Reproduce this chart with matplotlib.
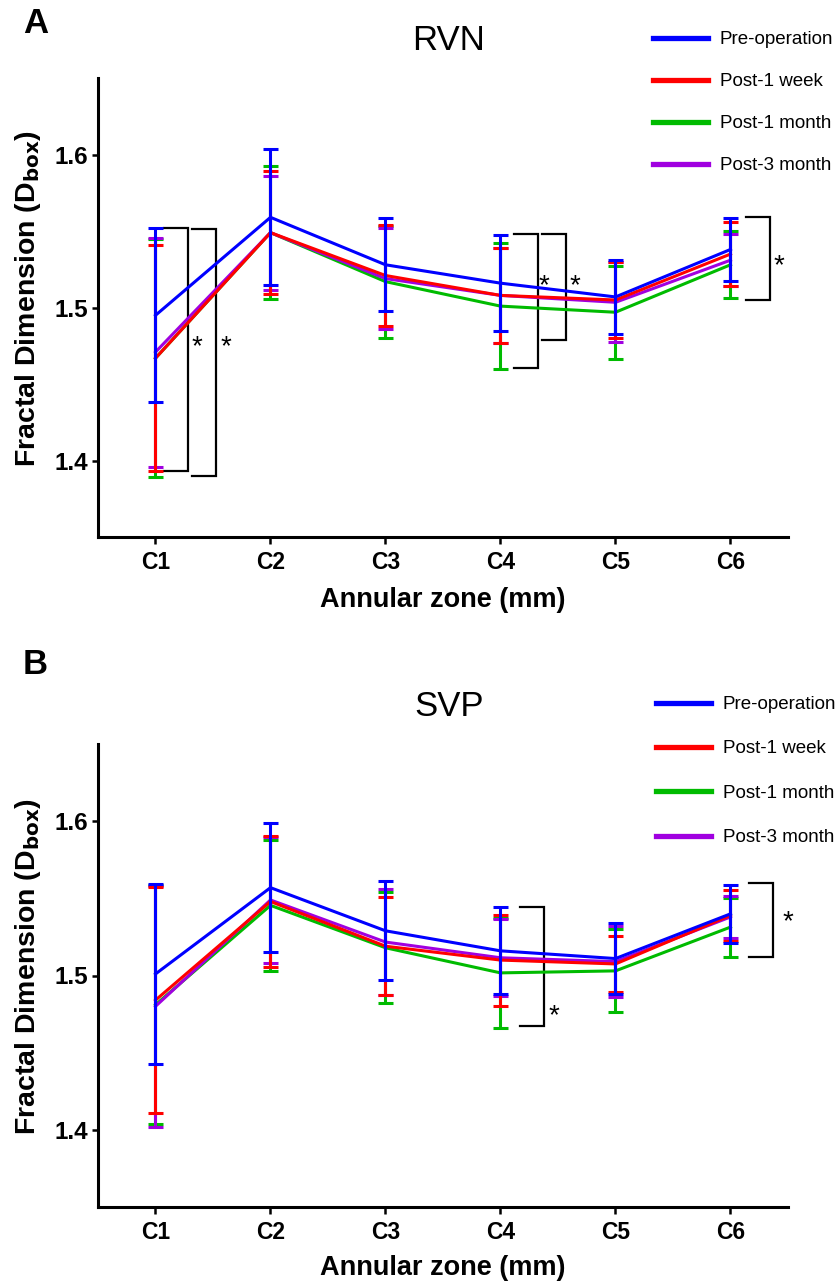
import matplotlib
matplotlib.use("Agg")
import matplotlib.pyplot as plt
import numpy as np

plt.rcParams['font.family'] = ['Liberation Sans', 'DejaVu Sans']

zones = ["C1", "C2", "C3", "C4", "C5", "C6"]
series = ["Pre-operation", "Post-1 week", "Post-1 month", "Post-3 month"]
colors = ["#0000FF", "#FF0000", "#00BB00", "#A000E0"]

# Panel A (RVN): means and SD
rvn_pre = [1.495, 1.559, 1.528, 1.516, 1.507, 1.538]
rvn_pre_sd = [0.0568, 0.0443, 0.0304, 0.0313, 0.0244, 0.0207]
rvn_w1 = [1.467, 1.549, 1.521, 1.508, 1.505, 1.535]
rvn_w1_sd = [0.0736, 0.0400, 0.0330, 0.0308, 0.0247, 0.0210]
rvn_m1 = [1.467, 1.549, 1.517, 1.501, 1.497, 1.528]
rvn_m1_sd = [0.0776, 0.0433, 0.0365, 0.0410, 0.0303, 0.0220]
rvn_m3 = [1.471, 1.549, 1.519, 1.508, 1.5035, 1.531]
rvn_m3_sd = [0.0748, 0.0373, 0.0329, 0.0310, 0.0260, 0.0169]

# Panel B (SVP): means and SD
svp_pre = [1.501, 1.557, 1.529, 1.516, 1.511, 1.540]
svp_pre_sd = [0.0585, 0.0417, 0.0320, 0.0282, 0.0230, 0.0188]
svp_w1 = [1.484, 1.548, 1.519, 1.510, 1.5075, 1.539]
svp_w1_sd = [0.0733, 0.0423, 0.0317, 0.0295, 0.0184, 0.0167]
svp_m1 = [1.481, 1.5455, 1.518, 1.5017, 1.503, 1.5314]
svp_m1_sd = [0.0775, 0.0427, 0.0359, 0.0356, 0.0270, 0.0192]
svp_m3 = [1.480, 1.549, 1.5217, 1.5115, 1.509, 1.538]
svp_m3_sd = [0.0780, 0.0410, 0.0341, 0.0250, 0.0230, 0.0137]

# significance brackets: (x_left, x_right, y_top, y_bottom, star_x, star_y)
rvn_brackets = [
    (0.072, 0.282, 1.5517, 1.3932, 0.36, 1.474),
    (0.314, 0.526, 1.5513, 1.3900, 0.613, 1.474),
    (3.115, 3.324, 1.5480, 1.4605, 3.376, 1.5137),
    (3.365, 3.568, 1.5480, 1.4790, 3.647, 1.5137),
    (5.133, 5.342, 1.5589, 1.5050, 5.42, 1.5268),
]
svp_brackets = [
    (3.167, 3.376, 1.5444, 1.4673, 3.464, 1.4734),
    (5.160, 5.370, 1.5600, 1.5123, 5.50, 1.5345),
]

W, H = 837, 1287
fig = plt.figure(figsize=(W / 100, H / 100), dpi=100)

def fx(px):
    return px / W

def fy(py):
    return 1 - py / H

panels = [
    dict(rect=[fx(98), fy(537.3), fx(788) - fx(98), fy(78) - fy(537.3)],
         means=[rvn_pre, rvn_w1, rvn_m1, rvn_m3],
         sds=[rvn_pre_sd, rvn_w1_sd, rvn_m1_sd, rvn_m3_sd],
         brackets=rvn_brackets, title="RVN", title_y=40, letter="A", letter_y=23.4,
         leg_top=31, leg_left=653, leg_sp=1.33, xlab_y=-0.1365),
    dict(rect=[fx(98), fy(1206.7), fx(788) - fx(98), fy(744.3) - fy(1206.7)],
         means=[svp_pre, svp_w1, svp_m1, svp_m3],
         sds=[svp_pre_sd, svp_w1_sd, svp_m1_sd, svp_m3_sd],
         brackets=svp_brackets, title="SVP", title_y=707, letter="B", letter_y=664,
         leg_top=696, leg_left=656, leg_sp=1.45, xlab_y=-0.133),
]

x = np.arange(len(zones))
order = [2, 3, 1, 0]  # draw green, purple, red, blue (blue on top)

for p in panels:
    ax = fig.add_axes(p["rect"])
    for i in order:
        ax.errorbar(x, p["means"][i], yerr=p["sds"][i], color=colors[i],
                    linewidth=2.2, elinewidth=2.2, capsize=5.4, capthick=2.2,
                    zorder=3 + order.index(i))
    proxies = [plt.Line2D([], [], color=colors[i], linewidth=3.8) for i in range(4)]
    ax.legend(proxies, series, loc="upper left", frameon=False,
              bbox_to_anchor=(fx(p["leg_left"]), fy(p["leg_top"])),
              bbox_transform=fig.transFigure, borderpad=0, borderaxespad=0,
              handlelength=2.95, handletextpad=0.62, labelspacing=p["leg_sp"],
              prop=dict(size=13.5))
    for (x0, x1, yt, yb, sx, sy) in p["brackets"]:
        ax.plot([x0, x1, x1, x0], [yt, yt, yb, yb], color="black", linewidth=1.6,
                solid_joinstyle="miter", zorder=2)
        ax.text(sx, sy, "*", fontsize=20, ha="center", va="center", color="black")

    ax.set_xlim(-0.5, 5.5)
    ax.set_ylim(1.35, 1.65)
    ax.set_xticks(x)
    ax.set_xticklabels(zones)
    ax.set_yticks([1.4, 1.5, 1.6])
    ax.set_yticklabels(["1.4", "1.5", "1.6"])
    for s in ["top", "right"]:
        ax.spines[s].set_visible(False)
    for s in ["left", "bottom"]:
        ax.spines[s].set_linewidth(2.2)
    ax.tick_params(axis="y", length=4.3, width=1.8, pad=3, labelsize=17.5)
    ax.tick_params(axis="x", length=5, width=1.8, pad=5, labelsize=16.5)
    for lab in ax.get_xticklabels() + ax.get_yticklabels():
        lab.set_fontweight("bold")
    ax.text(0.5, p["xlab_y"], "Annular zone (mm)", transform=ax.transAxes,
            ha="center", va="center", fontsize=19.5, fontweight="bold")
    ax.text(-0.101, 0.52, r"Fractal Dimension (D$_{\mathbf{box}}$)", transform=ax.transAxes,
            ha="center", va="center", rotation=90, fontsize=20.5, fontweight="bold")
    fig.text(fx(449), fy(p["title_y"]), p["title"], ha="center", va="center", fontsize=25)
    fig.text(fx(22.7), fy(p["letter_y"]), p["letter"], ha="left", va="center",
             fontsize=25, fontweight="bold")

fig.savefig("out.png", dpi=100)
